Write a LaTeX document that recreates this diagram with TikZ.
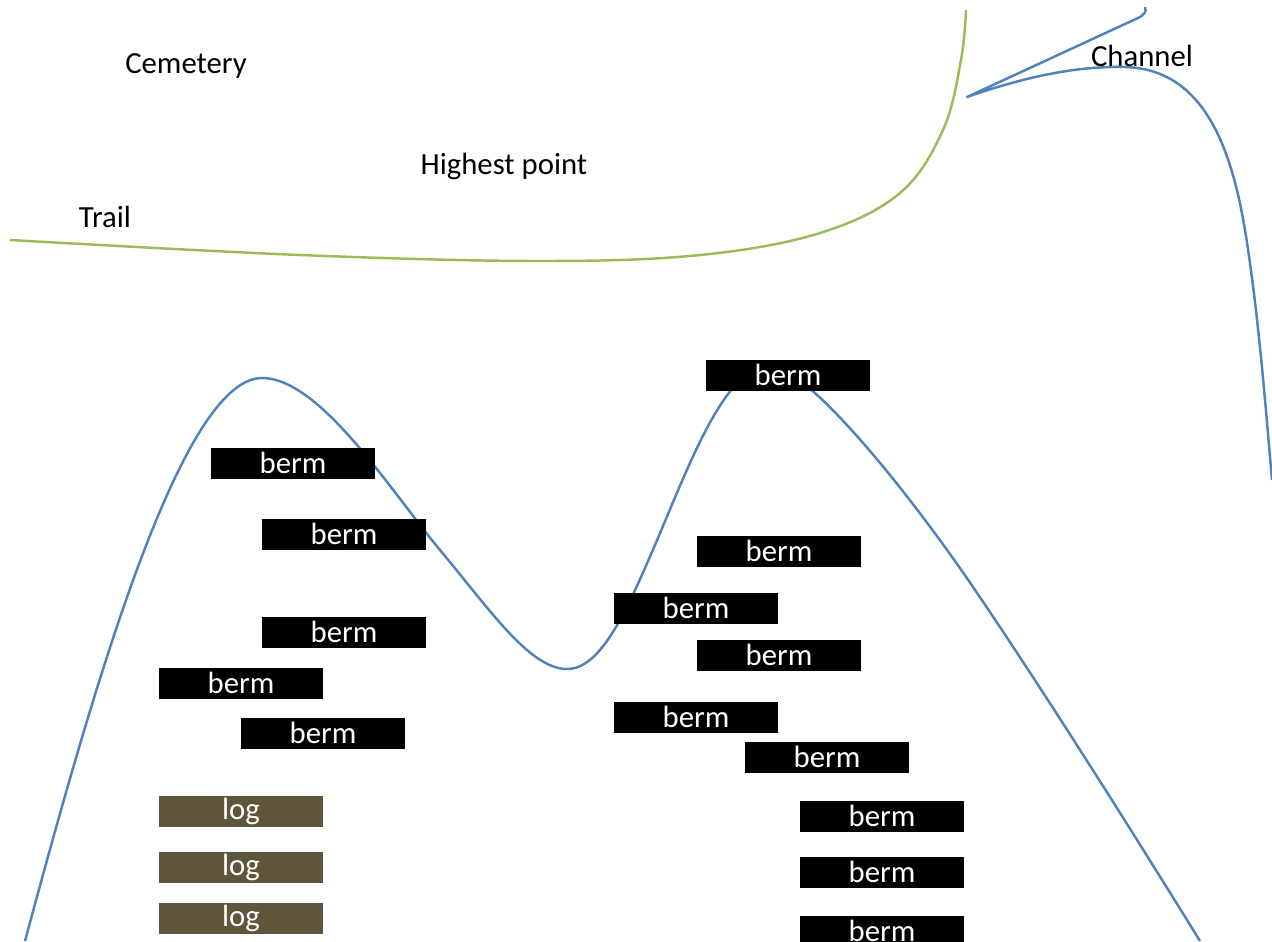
\documentclass[tikz,border=0pt]{standalone}
\usepackage{fontspec}
\setmainfont{Carlito}
\usepackage{tikz}
\usetikzlibrary{positioning}
\definecolor{trailgreen}{RGB}{155,187,89}
\definecolor{hillblue}{RGB}{79,129,189}
\definecolor{logbrown}{RGB}{94,85,58}

\begin{document}
\begin{tikzpicture}[x=0.02cm, y=-0.02cm,
    lbl/.style={font=\fontsize{17.5}{20}\selectfont, text=black},
    bermbox/.style={fill=black, text=white, minimum width=3.28cm, minimum height=0.62cm,
                    inner sep=0pt, font=\fontsize{17.5}{20}\selectfont},
    logbox/.style={bermbox, fill=logbrown}]
  \useasboundingbox (0,0) rectangle (1272,941);
  \clip (0,0) rectangle (1272,941);
  % Labels
  \node[lbl] (cemetery) at (186,66) {Cemetery};
  \node[lbl] (highest) at (504,166) {Highest point};
  \node[lbl] (trail) at (105,217) {Trail};
  \node[lbl] (channel) at (1142,56) {Channel};
  % Trail
  \draw[trailgreen, line width=1.4pt] plot[smooth, tension=0.6] coordinates
    {(10,240) (300,255) (540,261) (700,255) (820,233) (900,193) (943,130) (961,60) (966,10)};
  % Channel
  \draw[hillblue, line width=1.4pt, line join=round]
    (1145,7) .. controls (1147,12) and (1144,15) .. (1138,18) -- (967,97)
    .. controls (1030,75) and (1080,66) .. (1125,67)
    .. controls (1200,69) and (1230,140) .. (1245,230)
    .. controls (1258,310) and (1265,400) .. (1272,480);
  % Hills
  \draw[hillblue, line width=1.4pt]
    (25,941) .. controls (90,700) and (180,378) .. (262,378)
    .. controls (320,378) and (390,490) .. (440,550)
    .. controls (490,610) and (530,669) .. (567,669)
    .. controls (600,669) and (625,615) .. (655,545)
    .. controls (690,463) and (725,366) .. (770,366)
    .. controls (805,366) and (900,480) .. (973,587)
    .. controls (1050,700) and (1150,860) .. (1200,941);
  % Berms, left hill
  \node[bermbox] (bl1) at (293,463) {berm};
  \node[bermbox] (bl2) at (344,534) {berm};
  \node[bermbox] (bl3) at (344,632) {berm};
  \node[bermbox] (bl4) at (241,683) {berm};
  \node[bermbox] (bl5) at (323,733) {berm};
  % Logs
  \node[logbox] (log1) at (241,811) {log};
  \node[logbox] (log2) at (241,867) {log};
  \node[logbox] (log3) at (241,918) {log};
  % Berms, right hill
  \node[bermbox] (br1) at (788,375) {berm};
  \node[bermbox] (br2) at (779,551) {berm};
  \node[bermbox] (br3) at (696,608) {berm};
  \node[bermbox] (br4) at (779,655) {berm};
  \node[bermbox] (br5) at (696,717) {berm};
  \node[bermbox] (br6) at (827,757) {berm};
  \node[bermbox] (br7) at (882,816) {berm};
  \node[bermbox] (br8) at (882,872) {berm};
  \node[bermbox] (br9) at (882,931) {berm};
\end{tikzpicture}
\end{document}
